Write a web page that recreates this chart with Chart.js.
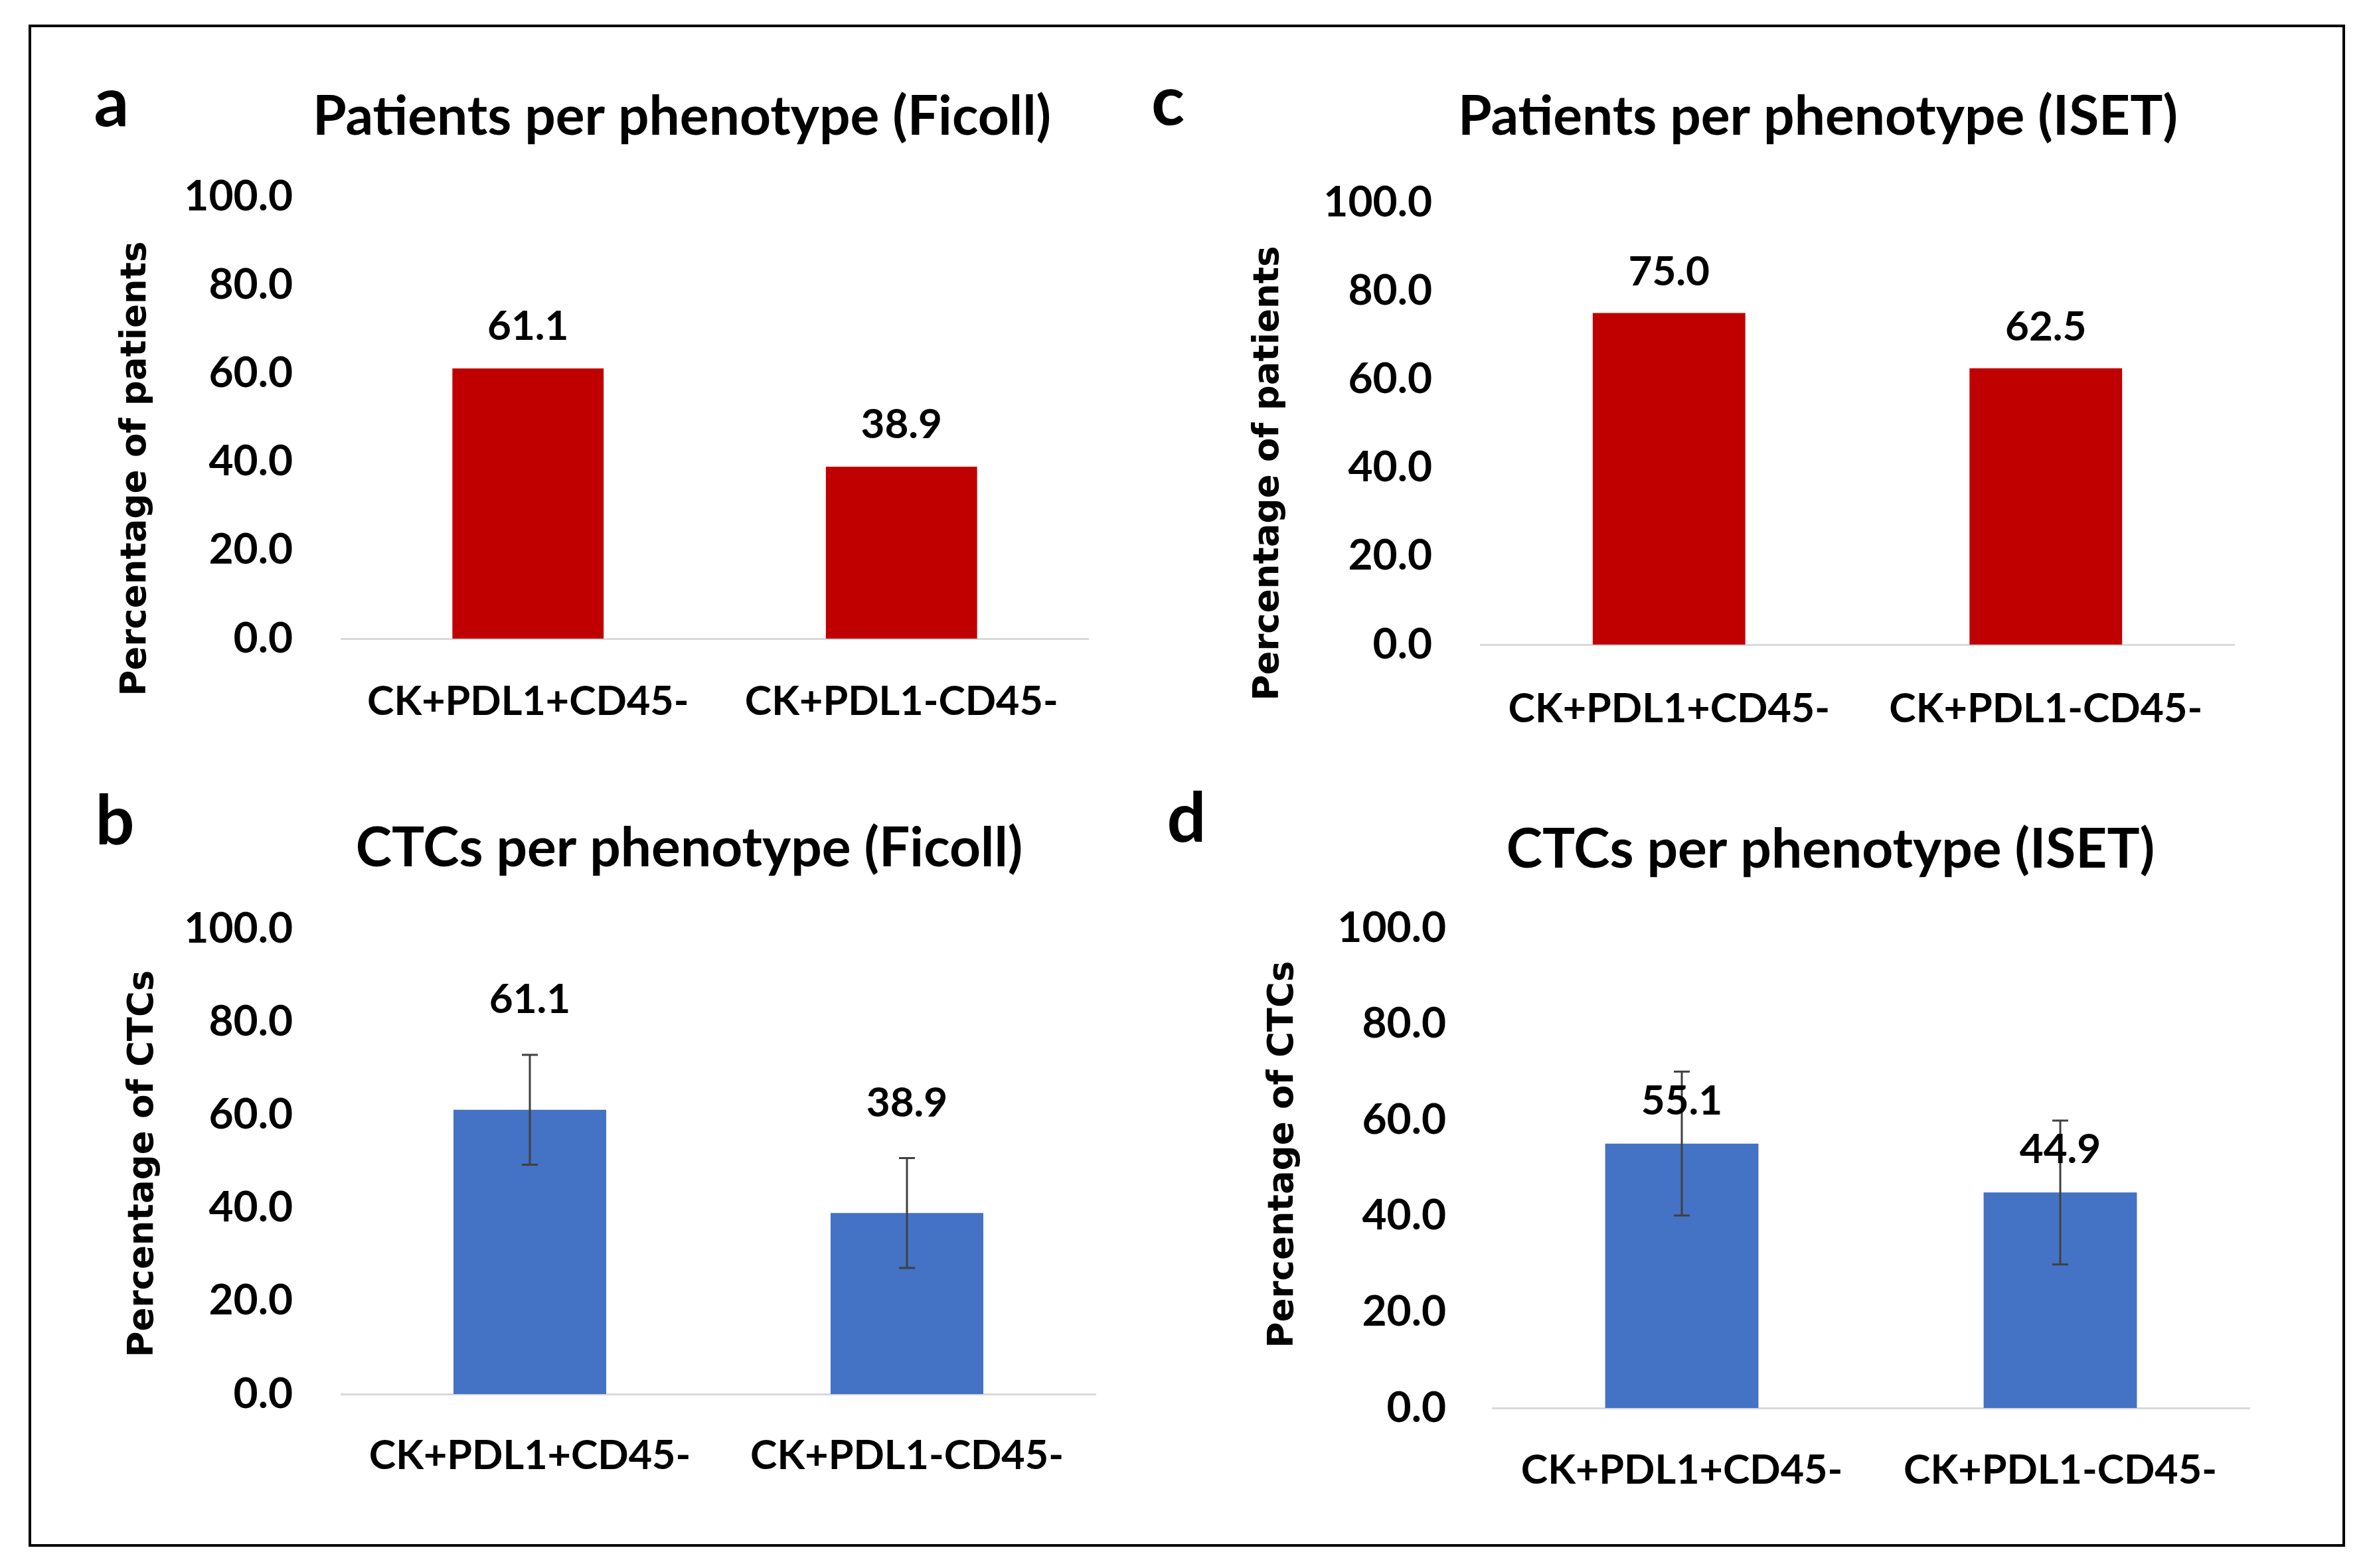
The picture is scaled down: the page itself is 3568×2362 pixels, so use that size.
<!DOCTYPE html>
<html>
<head>
<meta charset="utf-8">
<script src="https://cdn.jsdelivr.net/npm/chart.js@4.4.1/dist/chart.umd.min.js"></script>
<style>
  html, body { margin: 0; padding: 0; background: #fff; }
  #page { position: relative; width: 3568px; height: 2362px; overflow: hidden; }
  #frame { position: absolute; left: 43px; top: 37px; width: 3481px; height: 2285px; border: 4px solid #000; }
  canvas { position: absolute; left: 0; top: 0; }
</style>
</head>
<body>
<div id="page">
  <div id="frame"></div>
  <canvas id="chartA" width="3568" height="2362"></canvas>
  <canvas id="chartB" width="3568" height="2362"></canvas>
  <canvas id="chartC" width="3568" height="2362"></canvas>
  <canvas id="chartD" width="3568" height="2362"></canvas>
</div>
<script>
// data
const categories = ['CK+PDL1+CD45-', 'CK+PDL1-CD45-'];
const ficollPatients = [61.1, 38.9];
const isetPatients = [75.0, 62.5];
const ficollCtcs = [61.1, 38.9];
const ficollCtcsErr = [11.8, 11.8];
const isetCtcs = [55.1, 44.9];
const isetCtcsErr = [15.0, 15.0];
const yTicks = [0, 20, 40, 60, 80, 100];

const RED = '#C00000';
const BLUE = '#4472C4';
const W = 3568, H = 2362;
const calibri = 'Lato';
const verdana = 'DejaVu Sans';

// draws titles, panel letter, y title, value labels and error bars
const panelText = {
  id: 'panelText',
  afterDatasetsDraw(chart, args, opts) {
    const ctx = chart.ctx;
    const meta = chart.getDatasetMeta(0);
    const ds = chart.data.datasets[0];
    const y = chart.scales.y;
    ctx.save();
    // error bars
    if (ds.errors) {
      ctx.strokeStyle = '#404040';
      ctx.lineWidth = 3;
      meta.data.forEach((bar, i) => {
        const v = ds.data[i], e = ds.errors[i];
        const yt = y.getPixelForValue(v + e), yb = y.getPixelForValue(v - e);
        ctx.beginPath();
        ctx.moveTo(bar.x, yt); ctx.lineTo(bar.x, yb);
        ctx.moveTo(bar.x - 12, yt); ctx.lineTo(bar.x + 12, yt);
        ctx.moveTo(bar.x - 12, yb); ctx.lineTo(bar.x + 12, yb);
        ctx.stroke();
      });
    }
    // value labels
    ctx.fillStyle = '#000';
    ctx.font = 'bold 62px ' + calibri;
    ctx.textAlign = 'center';
    ctx.textBaseline = 'middle';
    meta.data.forEach((bar, i) => {
      const v = ds.data[i];
      let top = bar.y;
      if (opts.labelOnError && ds.errors) top = y.getPixelForValue(v + ds.errors[i]);
      ctx.fillText(v.toFixed(1), bar.x, top - opts.labelGap);
    });
    // chart title
    ctx.textBaseline = 'alphabetic';
    ctx.font = 'bold 82px ' + calibri;
    ctx.fillText(opts.title, opts.titleX, opts.titleY);
    // panel letter
    ctx.font = 'bold 104px ' + calibri;
    ctx.fillText(opts.letter, opts.letterX, opts.letterY);
    // y axis title
    ctx.translate(opts.yTitleX, opts.yTitleY);
    ctx.rotate(-Math.PI / 2);
    ctx.textBaseline = 'middle';
    ctx.font = 'bold 53px ' + verdana;
    ctx.fillText(opts.yTitle, 0, 0);
    ctx.restore();
  }
};

function makeChart(id, values, errors, color, box, text) {
  new Chart(document.getElementById(id), {
    type: 'bar',
    data: {
      labels: categories,
      datasets: [{
        data: values,
        errors: errors,
        backgroundColor: color,
        categoryPercentage: 1,
        barPercentage: 0.405
      }]
    },
    options: {
      responsive: false,
      animation: false,
      devicePixelRatio: 1,
      layout: { padding: { left: 0, right: W - box.right, top: box.top, bottom: H - box.bottom - 200 } },
      plugins: {
        legend: { display: false },
        tooltip: { enabled: false },
        panelText: text
      },
      scales: {
        x: {
          grid: { display: false, drawTicks: false },
          border: { display: true, color: '#D9D9D9', width: 3 },
          ticks: { color: '#000', font: { family: calibri, size: 61, weight: 'bold', lineHeight: 1.2 }, padding: box.xLabelY - box.bottom - 37 },
          afterFit: s => { s.height = 200; }
        },
        y: {
          min: 0, max: 100,
          afterBuildTicks: s => { s.ticks = yTicks.map(v => ({ value: v })); },
          grid: { display: false, drawTicks: false },
          border: { display: false },
          ticks: { color: '#000', font: { family: calibri, size: 64, weight: 'bold' }, padding: box.left - box.tickRight, callback: v => v.toFixed(1) },
          afterFit: s => { s.width = box.left; }
        }
      }
    },
    plugins: [panelText]
  });
}

makeChart('chartA', ficollPatients, null, RED,
  { left: 514, right: 1639, top: 296, bottom: 962, tickRight: 441, xLabelY: 1058 },
  { title: 'Patients per phenotype (Ficoll)', titleX: 1027, titleY: 203, letter: 'a', letterX: 168, letterY: 190,
    yTitle: 'Percentage of patients', yTitleX: 205, yTitleY: 706, labelGap: 63, labelOnError: false });

makeChart('chartC', isetPatients, null, RED,
  { left: 2230, right: 3365, top: 305, bottom: 971, tickRight: 2157, xLabelY: 1069 },
  { title: 'Patients per phenotype (ISET)', titleX: 2738, titleY: 203, letter: 'c', letterX: 1759, letterY: 188,
    yTitle: 'Percentage of patients', yTitleX: 1911, yTitleY: 713, labelGap: 62, labelOnError: false });

makeChart('chartB', ficollCtcs, ficollCtcsErr, BLUE,
  { left: 514, right: 1650, top: 1399, bottom: 2100, tickRight: 441, xLabelY: 2194 },
  { title: 'CTCs per phenotype (Ficoll)', titleX: 1038, titleY: 1305, letter: 'b', letterX: 173, letterY: 1272,
    yTitle: 'Percentage of CTCs', yTitleX: 216, yTitleY: 1753, labelGap: 83, labelOnError: true });

makeChart('chartD', isetCtcs, isetCtcsErr, BLUE,
  { left: 2248, right: 3388, top: 1398, bottom: 2121, tickRight: 2178, xLabelY: 2216 },
  { title: 'CTCs per phenotype (ISET)', titleX: 2757, titleY: 1307, letter: 'd', letterX: 1787, letterY: 1268,
    yTitle: 'Percentage of CTCs', yTitleX: 1933, yTitleY: 1739, labelGap: 64, labelOnError: false });
</script>
</body>
</html>
